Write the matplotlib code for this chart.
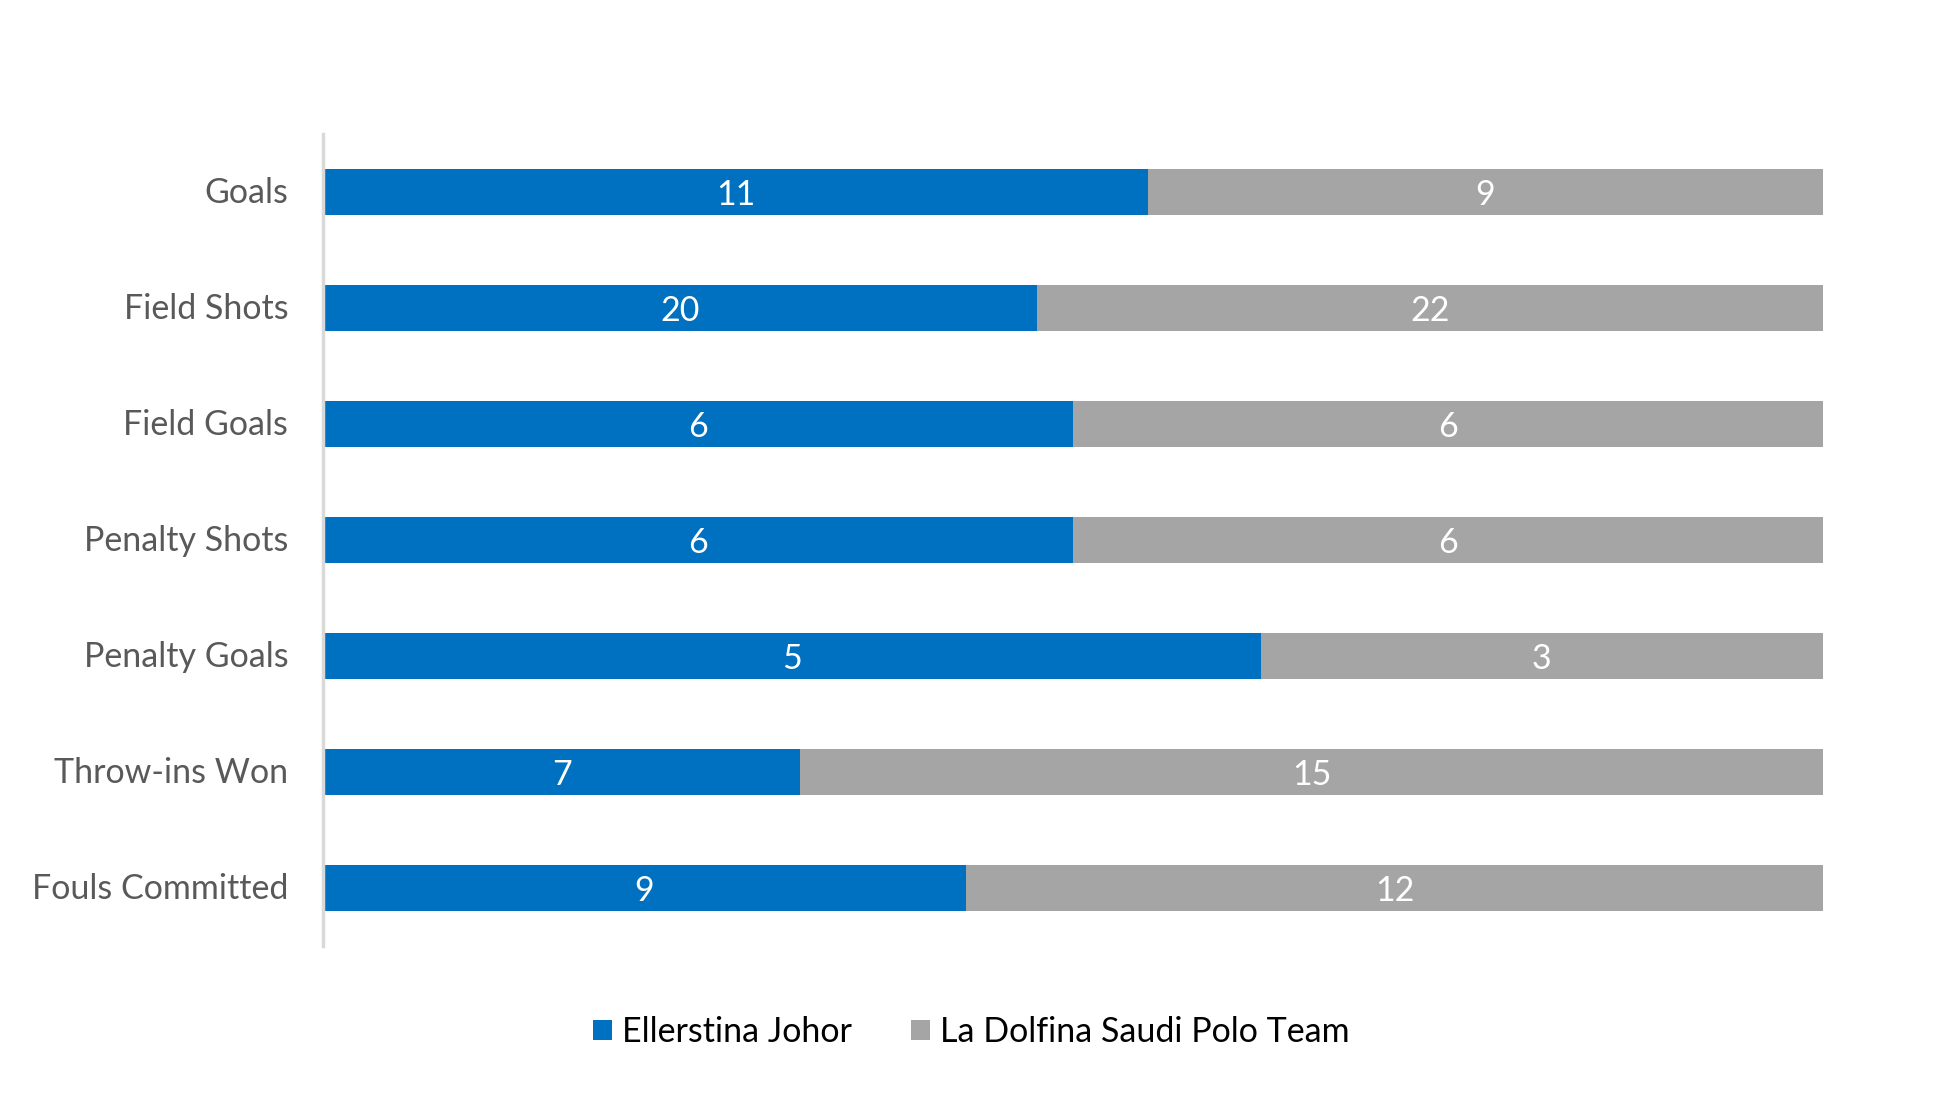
import matplotlib
matplotlib.use("Agg")
import matplotlib.pyplot as plt
import matplotlib.transforms as mtransforms
import numpy as np

categories = ["Goals", "Field Shots", "Field Goals", "Penalty Shots", "Penalty Goals", "Throw-ins Won", "Fouls Committed"]
ellerstina = [11, 20, 6, 6, 5, 7, 9]
la_dolfina = [9, 22, 6, 6, 3, 15, 12]
series_names = ["Ellerstina Johor", "La Dolfina Saudi Polo Team"]
colors = ["#0070C0", "#A5A5A5"]

plt.rcParams['font.family'] = ['Lato', 'DejaVu Sans']

W, H = 1943, 1100
fig = plt.figure(figsize=(W / 100, H / 100), dpi=100)
ax = fig.add_axes([323 / W, 1 - 946 / H, (1823 - 323) / W, (946 - 134) / H])

a = np.array(ellerstina, float)
b = np.array(la_dolfina, float)
tot = a + b
pa = a / tot
pb = b / tot
y = np.arange(len(categories))

ax.barh(y, pa, height=0.4, color=colors[0], label=series_names[0])
ax.barh(y, pb, left=pa, height=0.4, color=colors[1], label=series_names[1])

for i in range(len(categories)):
    ax.text(pa[i] / 2, y[i] + 0.025, str(ellerstina[i]), ha='center', va='center', color='white', fontsize=24.5)
    ax.text(pa[i] + pb[i] / 2, y[i] + 0.025, str(la_dolfina[i]), ha='center', va='center', color='white', fontsize=24.5)

ax.set_xlim(0, 1)
ax.set_ylim(len(categories) - 0.5, -0.5)
ax.set_yticks(y)
ax.set_yticklabels(categories, fontsize=24.5, color='#595959')
ax.tick_params(axis='y', length=0, pad=25)
off = mtransforms.ScaledTranslation(0, 2.5 / 100, fig.dpi_scale_trans)
for lab in ax.get_yticklabels():
    lab.set_transform(lab.get_transform() + off)
ax.set_xticks([])
for s in ['top', 'right', 'bottom']:
    ax.spines[s].set_visible(False)
ax.spines['left'].set_color('#D9D9D9')
ax.spines['left'].set_linewidth(2.5)

leg = fig.legend(loc='center', bbox_to_anchor=(0.5, 1 - 1032 / H), ncol=2, frameon=False,
                 fontsize=24.5, handlelength=0.55, handleheight=0.55, handletextpad=0.3,
                 columnspacing=1.75)
for t in leg.get_texts():
    t.set_color('black')

fig.savefig("out.png", dpi=100)
